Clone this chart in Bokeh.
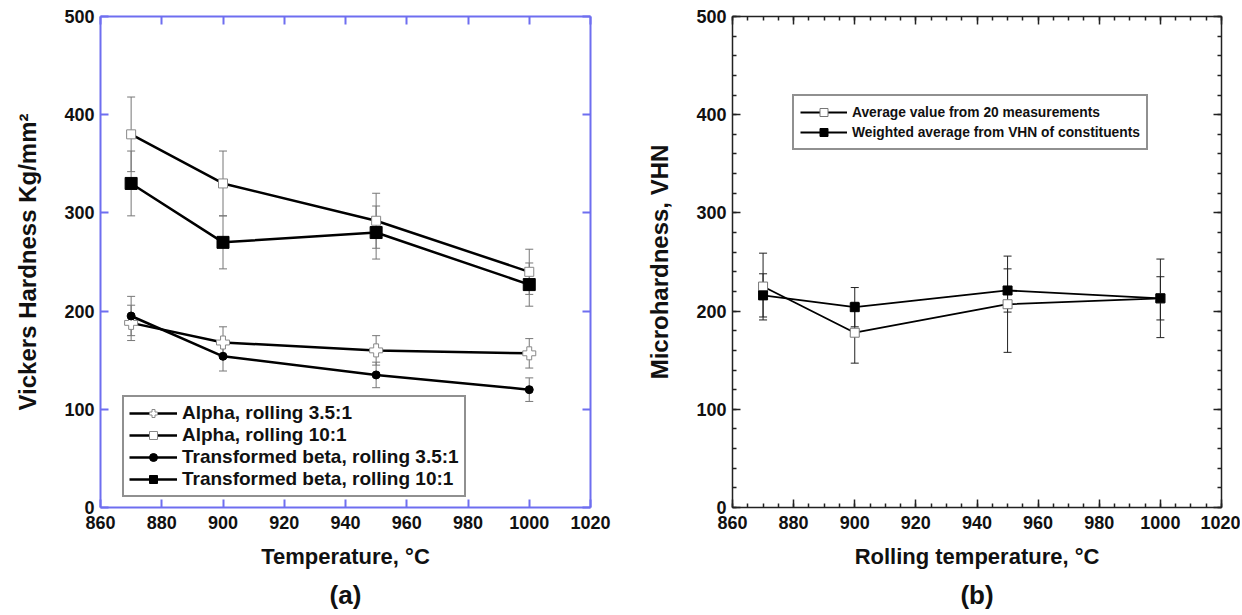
from bokeh.plotting import figure
from bokeh.layouts import row
from bokeh.models import (LinearAxis, Whisker, ColumnDataSource, Legend, LegendItem,
                          Title, FixedTicker, TeeHead, CustomJSTickFormatter)
from bokeh.embed import file_html
from bokeh.resources import INLINE

# ---------------- data ----------------
temps = [870, 900, 950, 1000]

# panel (a)
alpha35 = [188, 168, 160, 157]
alpha35_err = [18, 16, 15, 15]
alpha10 = [380, 330, 292, 240]
alpha10_err = [38, 33, 28, 23]
beta35 = [195, 154, 135, 120]
beta35_err = [20, 15, 13, 12]
beta10 = [330, 270, 280, 227]
beta10_err = [33, 27, 27, 22]

# panel (b)
avg20 = [225, 178, 207, 213]
avg20_err = [34, 31, 49, 40]
weighted = [216, 204, 221, 213]
weighted_err = [22, 20, 22, 22]

x_ticks = [860, 880, 900, 920, 940, 960, 980, 1000, 1020]
x_minor = list(range(860, 1021, 5))
y_ticks = [0, 100, 200, 300, 400, 500]
y_minor = list(range(0, 501, 20))

FONT = "Liberation Sans"
BLUE = "#6e6ef0"


def style_axis(ax, color, minor, width, show_labels=True):
    ax.axis_line_color = color
    ax.axis_line_width = width
    ax.major_tick_line_color = color
    ax.major_tick_line_width = width
    ax.major_tick_in = 8
    ax.major_tick_out = 0
    if minor:
        ax.minor_tick_line_color = color
        ax.minor_tick_line_width = width
        ax.minor_tick_in = 4
        ax.minor_tick_out = 0
    else:
        ax.minor_tick_line_color = None
    ax.major_label_text_font = FONT
    ax.major_label_text_font_style = "bold"
    ax.major_label_text_color = "#111111"
    ax.major_label_text_font_size = "18px"
    if not show_labels:
        ax.formatter = CustomJSTickFormatter(code="return ''")
        ax.major_label_standoff = 0
    ax.axis_label_text_font = FONT
    ax.axis_label_text_font_style = "bold"
    ax.axis_label_text_font_size = "22px"
    ax.axis_label_text_color = "#111111"


def make_panel(width, left, right, xlabel, ylabel, tag, color, minor, lw):
    p = figure(width=width, height=615, x_range=(860, 1020), y_range=(0, 500),
               min_border_left=left, min_border_right=right,
               min_border_top=16, min_border_bottom=108,
               output_backend="svg", toolbar_location=None)
    p.grid.visible = False
    p.outline_line_color = None
    xt = FixedTicker(ticks=x_ticks, minor_ticks=x_minor if minor else [])
    yt = FixedTicker(ticks=y_ticks, minor_ticks=y_minor if minor else [])
    p.xaxis.ticker = xt
    p.yaxis.ticker = yt
    p.xaxis.axis_label = xlabel
    p.yaxis.axis_label = ylabel
    for ax in p.xaxis + p.yaxis:
        style_axis(ax, color, minor, lw)
    p.yaxis.axis_label_text_font_size = "24px"
    p.xaxis.major_label_standoff = 8
    p.yaxis.major_label_standoff = 6
    p.xaxis.axis_label_standoff = 12
    p.yaxis.axis_label_standoff = 20
    top = LinearAxis(ticker=xt)
    style_axis(top, color, minor, lw, show_labels=False)
    p.add_layout(top, "above")
    rt = LinearAxis(ticker=yt)
    style_axis(rt, color, minor, lw, show_labels=False)
    p.add_layout(rt, "right")
    t = Title(text=tag, align="center", text_font=FONT, text_font_style="bold",
              text_font_size="26px", text_color="#111111", standoff=12,
              text_line_height=1.0)
    p.add_layout(t, "below")
    return p


def add_series(p, y, err, marker, size, fill, mcolor, ecolor, lw):
    src = ColumnDataSource(dict(x=temps, y=y,
                                upper=[a + b for a, b in zip(y, err)],
                                lower=[a - b for a, b in zip(y, err)]))
    w = Whisker(base="x", upper="upper", lower="lower", source=src,
                line_color=ecolor, line_width=1,
                upper_head=TeeHead(size=8, line_color=ecolor, line_width=1),
                lower_head=TeeHead(size=8, line_color=ecolor, line_width=1))
    p.add_layout(w)
    ln = p.line("x", "y", source=src, line_color="black", line_width=lw)
    sc = p.scatter("x", "y", source=src, marker=marker, size=size,
                   fill_color=fill, line_color=mcolor, line_width=1)
    return [ln, sc]


# ---------- panel (a) ----------
pa = make_panel(626, 100, 36, "Temperature, °C", "Vickers Hardness Kg/mm²", "(a)",
                BLUE, False, 2)
r1 = add_series(pa, alpha35, alpha35_err, "plus", 13, "white", "#888888", "#777777", 2.5)
r2 = add_series(pa, alpha10, alpha10_err, "square", 9, "white", "#888888", "#777777", 2.5)
r3 = add_series(pa, beta35, beta35_err, "circle", 8, "black", "black", "#777777", 2.5)
r4 = add_series(pa, beta10, beta10_err, "square", 12, "black", "black", "#777777", 2.5)
leg_a = Legend(items=[
    LegendItem(label="Alpha, rolling 3.5:1", renderers=r1),
    LegendItem(label="Alpha, rolling 10:1", renderers=r2),
    LegendItem(label="Transformed beta, rolling 3.5:1", renderers=r3),
    LegendItem(label="Transformed beta, rolling 10:1", renderers=r4),
], location=(22, 10))
leg_a.label_text_font = FONT
leg_a.label_text_font_style = "bold"
leg_a.label_text_font_size = "19px"
leg_a.label_text_line_height = 1.0
leg_a.label_text_color = "#111111"
leg_a.glyph_width = 48
leg_a.glyph_height = 20
leg_a.label_height = 20
leg_a.spacing = 0
leg_a.padding = 5
leg_a.margin = 0
leg_a.label_standoff = 5
leg_a.border_line_color = "#222222"
leg_a.border_line_width = 2
leg_a.background_fill_alpha = 1
pa.add_layout(leg_a)

# ---------- panel (b) ----------
pb = make_panel(614, 106, 19, "Rolling temperature, °C", "Microhardness, VHN", "(b)",
                "#222222", True, 1.5)
s1 = add_series(pb, avg20, avg20_err, "square", 9, "white", "#777777", "#222222", 1.8)
s2 = add_series(pb, weighted, weighted_err, "square", 9, "black", "black", "#222222", 1.8)
leg_b = Legend(items=[
    LegendItem(label="Average value from 20 measurements", renderers=s1),
    LegendItem(label="Weighted average from VHN of constituents", renderers=s2),
], location=(60, 357))
leg_b.label_text_font = FONT
leg_b.label_text_font_style = "bold"
leg_b.label_text_font_size = "13.8px"
leg_b.label_text_color = "#111111"
leg_b.glyph_width = 47
leg_b.glyph_height = 20
leg_b.label_height = 20
leg_b.spacing = 0
leg_b.padding = 6
leg_b.margin = 0
leg_b.label_standoff = 5
leg_b.border_line_color = "#222222"
leg_b.border_line_width = 2
pb.add_layout(leg_b)

layout = row(pa, pb)
open("out.html", "w").write(file_html(layout, INLINE))
